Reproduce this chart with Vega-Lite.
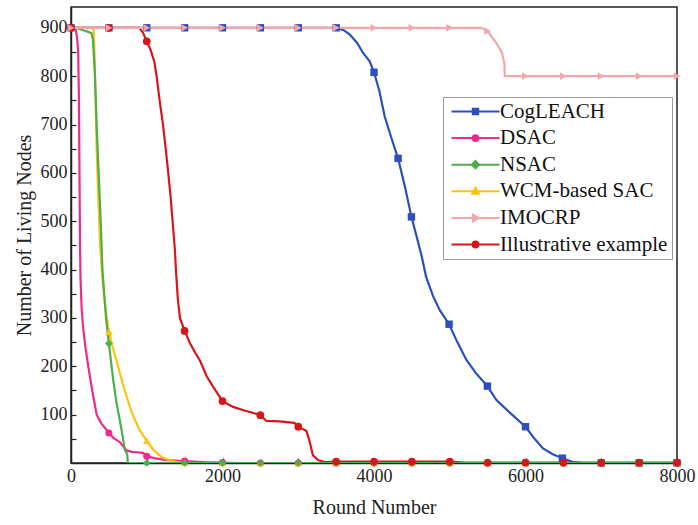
{
  "$schema": "https://vega.github.io/schema/vega-lite/v6.json",
  "autosize": "none",
  "width": 606,
  "height": 456,
  "padding": {"left": 71, "top": 7, "right": 21, "bottom": 62},
  "background": "white",
  "config": {
    "font": "Liberation Serif",
    "view": {"stroke": "#222", "strokeWidth": 1.5},
    "axis": {"domainColor": "#222", "domainWidth": 1.5, "tickColor": "#222", "tickWidth": 1.2, "labelColor": "#222", "titleColor": "#222", "labelFont": "Liberation Serif", "titleFont": "Liberation Serif", "labelFontSize": 18, "titleFontSize": 20, "titleFontWeight": "normal", "grid": false}
  },
  "data": {"values": [
    {"s":"Illustrative example","x":0,"y":900,"m":1},
    {"s":"Illustrative example","x":500,"y":900,"m":1},
    {"s":"Illustrative example","x":900,"y":900,"m":0},
    {"s":"Illustrative example","x":950,"y":890,"m":0},
    {"s":"Illustrative example","x":1000,"y":872,"m":1},
    {"s":"Illustrative example","x":1050,"y":855,"m":0},
    {"s":"Illustrative example","x":1100,"y":830,"m":0},
    {"s":"Illustrative example","x":1130,"y":800,"m":0},
    {"s":"Illustrative example","x":1170,"y":750,"m":0},
    {"s":"Illustrative example","x":1214,"y":700,"m":0},
    {"s":"Illustrative example","x":1250,"y":650,"m":0},
    {"s":"Illustrative example","x":1284,"y":600,"m":0},
    {"s":"Illustrative example","x":1315,"y":550,"m":0},
    {"s":"Illustrative example","x":1341,"y":500,"m":0},
    {"s":"Illustrative example","x":1372,"y":440,"m":0},
    {"s":"Illustrative example","x":1385,"y":400,"m":0},
    {"s":"Illustrative example","x":1410,"y":340,"m":0},
    {"s":"Illustrative example","x":1438,"y":300,"m":0},
    {"s":"Illustrative example","x":1500,"y":273,"m":1},
    {"s":"Illustrative example","x":1570,"y":248,"m":0},
    {"s":"Illustrative example","x":1640,"y":228,"m":0},
    {"s":"Illustrative example","x":1702,"y":212,"m":0},
    {"s":"Illustrative example","x":1790,"y":180,"m":0},
    {"s":"Illustrative example","x":1875,"y":158,"m":0},
    {"s":"Illustrative example","x":2000,"y":128,"m":1},
    {"s":"Illustrative example","x":2140,"y":116,"m":0},
    {"s":"Illustrative example","x":2300,"y":108,"m":0},
    {"s":"Illustrative example","x":2420,"y":103,"m":0},
    {"s":"Illustrative example","x":2500,"y":99,"m":1},
    {"s":"Illustrative example","x":2580,"y":87,"m":0},
    {"s":"Illustrative example","x":2750,"y":86,"m":0},
    {"s":"Illustrative example","x":2950,"y":83,"m":0},
    {"s":"Illustrative example","x":3000,"y":75,"m":1},
    {"s":"Illustrative example","x":3108,"y":66,"m":0},
    {"s":"Illustrative example","x":3150,"y":45,"m":0},
    {"s":"Illustrative example","x":3193,"y":16,"m":0},
    {"s":"Illustrative example","x":3260,"y":6,"m":0},
    {"s":"Illustrative example","x":3350,"y":2,"m":0},
    {"s":"Illustrative example","x":3500,"y":3,"m":1},
    {"s":"Illustrative example","x":4000,"y":3,"m":1},
    {"s":"Illustrative example","x":4500,"y":3,"m":1},
    {"s":"Illustrative example","x":5000,"y":3,"m":1},
    {"s":"Illustrative example","x":5200,"y":1,"m":0},
    {"s":"Illustrative example","x":5500,"y":1,"m":1},
    {"s":"Illustrative example","x":6000,"y":1,"m":1},
    {"s":"Illustrative example","x":6500,"y":1,"m":1},
    {"s":"Illustrative example","x":7000,"y":1,"m":1},
    {"s":"Illustrative example","x":7500,"y":1,"m":1},
    {"s":"Illustrative example","x":8000,"y":1,"m":1},

    {"s":"CogLEACH","x":0,"y":900,"m":1},
    {"s":"CogLEACH","x":500,"y":900,"m":1},
    {"s":"CogLEACH","x":1000,"y":900,"m":1},
    {"s":"CogLEACH","x":1500,"y":900,"m":1},
    {"s":"CogLEACH","x":2000,"y":900,"m":1},
    {"s":"CogLEACH","x":2500,"y":900,"m":1},
    {"s":"CogLEACH","x":3000,"y":900,"m":1},
    {"s":"CogLEACH","x":3500,"y":900,"m":1},
    {"s":"CogLEACH","x":3600,"y":895,"m":0},
    {"s":"CogLEACH","x":3681,"y":886,"m":0},
    {"s":"CogLEACH","x":3780,"y":868,"m":0},
    {"s":"CogLEACH","x":3856,"y":848,"m":0},
    {"s":"CogLEACH","x":3945,"y":830,"m":0},
    {"s":"CogLEACH","x":4000,"y":808,"m":1},
    {"s":"CogLEACH","x":4070,"y":770,"m":0},
    {"s":"CogLEACH","x":4142,"y":716,"m":0},
    {"s":"CogLEACH","x":4230,"y":672,"m":0},
    {"s":"CogLEACH","x":4318,"y":630,"m":1},
    {"s":"CogLEACH","x":4410,"y":570,"m":0},
    {"s":"CogLEACH","x":4494,"y":509,"m":1},
    {"s":"CogLEACH","x":4560,"y":470,"m":0},
    {"s":"CogLEACH","x":4626,"y":430,"m":0},
    {"s":"CogLEACH","x":4688,"y":385,"m":0},
    {"s":"CogLEACH","x":4780,"y":345,"m":0},
    {"s":"CogLEACH","x":4868,"y":316,"m":0},
    {"s":"CogLEACH","x":4991,"y":287,"m":1},
    {"s":"CogLEACH","x":5100,"y":250,"m":0},
    {"s":"CogLEACH","x":5220,"y":213,"m":0},
    {"s":"CogLEACH","x":5350,"y":185,"m":0},
    {"s":"CogLEACH","x":5497,"y":159,"m":1},
    {"s":"CogLEACH","x":5616,"y":130,"m":0},
    {"s":"CogLEACH","x":5800,"y":103,"m":0},
    {"s":"CogLEACH","x":6000,"y":75,"m":1},
    {"s":"CogLEACH","x":6120,"y":50,"m":0},
    {"s":"CogLEACH","x":6231,"y":30,"m":0},
    {"s":"CogLEACH","x":6360,"y":18,"m":0},
    {"s":"CogLEACH","x":6487,"y":10,"m":1},
    {"s":"CogLEACH","x":6627,"y":2,"m":0},
    {"s":"CogLEACH","x":6750,"y":0,"m":0},
    {"s":"CogLEACH","x":7000,"y":0,"m":1},
    {"s":"CogLEACH","x":7500,"y":0,"m":1},
    {"s":"CogLEACH","x":8000,"y":0,"m":1},

    {"s":"DSAC","x":0,"y":900,"m":1},
    {"s":"DSAC","x":60,"y":900,"m":0},
    {"s":"DSAC","x":80,"y":880,"m":0},
    {"s":"DSAC","x":95,"y":850,"m":0},
    {"s":"DSAC","x":105,"y":750,"m":0},
    {"s":"DSAC","x":112,"y":600,"m":0},
    {"s":"DSAC","x":119,"y":450,"m":0},
    {"s":"DSAC","x":126,"y":380,"m":0},
    {"s":"DSAC","x":140,"y":320,"m":0},
    {"s":"DSAC","x":160,"y":280,"m":0},
    {"s":"DSAC","x":190,"y":240,"m":0},
    {"s":"DSAC","x":228,"y":200,"m":0},
    {"s":"DSAC","x":280,"y":150,"m":0},
    {"s":"DSAC","x":339,"y":100,"m":0},
    {"s":"DSAC","x":400,"y":82,"m":0},
    {"s":"DSAC","x":450,"y":72,"m":0},
    {"s":"DSAC","x":500,"y":62,"m":1},
    {"s":"DSAC","x":560,"y":52,"m":0},
    {"s":"DSAC","x":646,"y":43,"m":0},
    {"s":"DSAC","x":735,"y":26,"m":0},
    {"s":"DSAC","x":800,"y":23,"m":0},
    {"s":"DSAC","x":950,"y":21,"m":0},
    {"s":"DSAC","x":1000,"y":14,"m":1},
    {"s":"DSAC","x":1100,"y":10,"m":0},
    {"s":"DSAC","x":1262,"y":6,"m":0},
    {"s":"DSAC","x":1500,"y":4,"m":1},
    {"s":"DSAC","x":1750,"y":2,"m":0},
    {"s":"DSAC","x":2000,"y":1,"m":1},
    {"s":"DSAC","x":2200,"y":0,"m":0},
    {"s":"DSAC","x":2500,"y":0,"m":1},
    {"s":"DSAC","x":3000,"y":0,"m":1},
    {"s":"DSAC","x":3500,"y":0,"m":1},
    {"s":"DSAC","x":4000,"y":0,"m":1},
    {"s":"DSAC","x":4500,"y":0,"m":1},
    {"s":"DSAC","x":5000,"y":0,"m":1},
    {"s":"DSAC","x":5500,"y":0,"m":1},
    {"s":"DSAC","x":6000,"y":0,"m":1},
    {"s":"DSAC","x":6500,"y":0,"m":1},
    {"s":"DSAC","x":7000,"y":0,"m":1},
    {"s":"DSAC","x":7500,"y":0,"m":1},
    {"s":"DSAC","x":8000,"y":0,"m":1},

    {"s":"WCM-based SAC","x":0,"y":900,"m":1},
    {"s":"WCM-based SAC","x":280,"y":900,"m":0},
    {"s":"WCM-based SAC","x":300,"y":895,"m":0},
    {"s":"WCM-based SAC","x":310,"y":850,"m":0},
    {"s":"WCM-based SAC","x":320,"y":780,"m":0},
    {"s":"WCM-based SAC","x":338,"y":650,"m":0},
    {"s":"WCM-based SAC","x":360,"y":550,"m":0},
    {"s":"WCM-based SAC","x":385,"y":450,"m":0},
    {"s":"WCM-based SAC","x":415,"y":380,"m":0},
    {"s":"WCM-based SAC","x":455,"y":320,"m":0},
    {"s":"WCM-based SAC","x":500,"y":271,"m":1},
    {"s":"WCM-based SAC","x":550,"y":240,"m":0},
    {"s":"WCM-based SAC","x":620,"y":200,"m":0},
    {"s":"WCM-based SAC","x":700,"y":155,"m":0},
    {"s":"WCM-based SAC","x":800,"y":105,"m":0},
    {"s":"WCM-based SAC","x":900,"y":70,"m":0},
    {"s":"WCM-based SAC","x":1000,"y":46,"m":1},
    {"s":"WCM-based SAC","x":1100,"y":25,"m":0},
    {"s":"WCM-based SAC","x":1200,"y":12,"m":0},
    {"s":"WCM-based SAC","x":1300,"y":6,"m":0},
    {"s":"WCM-based SAC","x":1400,"y":2,"m":0},
    {"s":"WCM-based SAC","x":1500,"y":1,"m":1},
    {"s":"WCM-based SAC","x":1600,"y":0,"m":0},
    {"s":"WCM-based SAC","x":2000,"y":0,"m":1},
    {"s":"WCM-based SAC","x":2500,"y":0,"m":1},
    {"s":"WCM-based SAC","x":3000,"y":0,"m":1},
    {"s":"WCM-based SAC","x":3500,"y":0,"m":1},
    {"s":"WCM-based SAC","x":4000,"y":0,"m":1},
    {"s":"WCM-based SAC","x":4500,"y":0,"m":1},
    {"s":"WCM-based SAC","x":5000,"y":0,"m":1},
    {"s":"WCM-based SAC","x":5500,"y":0,"m":1},
    {"s":"WCM-based SAC","x":6000,"y":0,"m":1},
    {"s":"WCM-based SAC","x":6500,"y":0,"m":1},
    {"s":"WCM-based SAC","x":7000,"y":0,"m":1},
    {"s":"WCM-based SAC","x":7500,"y":0,"m":1},
    {"s":"WCM-based SAC","x":8000,"y":0,"m":1},

    {"s":"NSAC","x":0,"y":900,"m":1},
    {"s":"NSAC","x":100,"y":898,"m":0},
    {"s":"NSAC","x":200,"y":893,"m":0},
    {"s":"NSAC","x":270,"y":889,"m":0},
    {"s":"NSAC","x":290,"y":875,"m":0},
    {"s":"NSAC","x":317,"y":800,"m":0},
    {"s":"NSAC","x":338,"y":700,"m":0},
    {"s":"NSAC","x":365,"y":600,"m":0},
    {"s":"NSAC","x":392,"y":500,"m":0},
    {"s":"NSAC","x":415,"y":400,"m":0},
    {"s":"NSAC","x":462,"y":300,"m":0},
    {"s":"NSAC","x":500,"y":247,"m":1},
    {"s":"NSAC","x":558,"y":171,"m":0},
    {"s":"NSAC","x":600,"y":125,"m":0},
    {"s":"NSAC","x":640,"y":92,"m":0},
    {"s":"NSAC","x":668,"y":68,"m":0},
    {"s":"NSAC","x":712,"y":26,"m":0},
    {"s":"NSAC","x":742,"y":18,"m":0},
    {"s":"NSAC","x":750,"y":0,"m":0},
    {"s":"NSAC","x":1000,"y":0,"m":1},
    {"s":"NSAC","x":1500,"y":0,"m":1},
    {"s":"NSAC","x":2000,"y":0,"m":1},
    {"s":"NSAC","x":2500,"y":0,"m":1},
    {"s":"NSAC","x":3000,"y":0,"m":1},
    {"s":"NSAC","x":3500,"y":0,"m":1},
    {"s":"NSAC","x":4000,"y":0,"m":1},
    {"s":"NSAC","x":4500,"y":0,"m":1},
    {"s":"NSAC","x":5000,"y":0,"m":1},
    {"s":"NSAC","x":5500,"y":0,"m":1},
    {"s":"NSAC","x":6000,"y":0,"m":1},
    {"s":"NSAC","x":6500,"y":0,"m":1},
    {"s":"NSAC","x":7000,"y":0,"m":1},
    {"s":"NSAC","x":7500,"y":0,"m":1},
    {"s":"NSAC","x":8000,"y":0,"m":1},

    {"s":"IMOCRP","x":0,"y":900,"m":1},
    {"s":"IMOCRP","x":500,"y":900,"m":1},
    {"s":"IMOCRP","x":1000,"y":900,"m":1},
    {"s":"IMOCRP","x":1500,"y":900,"m":1},
    {"s":"IMOCRP","x":2000,"y":900,"m":1},
    {"s":"IMOCRP","x":2500,"y":900,"m":1},
    {"s":"IMOCRP","x":3000,"y":900,"m":1},
    {"s":"IMOCRP","x":3500,"y":900,"m":1},
    {"s":"IMOCRP","x":4000,"y":900,"m":1},
    {"s":"IMOCRP","x":4500,"y":900,"m":1},
    {"s":"IMOCRP","x":5000,"y":900,"m":1},
    {"s":"IMOCRP","x":5417,"y":900,"m":0},
    {"s":"IMOCRP","x":5500,"y":893,"m":1},
    {"s":"IMOCRP","x":5617,"y":868,"m":0},
    {"s":"IMOCRP","x":5690,"y":848,"m":0},
    {"s":"IMOCRP","x":5722,"y":825,"m":0},
    {"s":"IMOCRP","x":5726,"y":800,"m":0},
    {"s":"IMOCRP","x":6000,"y":800,"m":1},
    {"s":"IMOCRP","x":6500,"y":800,"m":1},
    {"s":"IMOCRP","x":7000,"y":800,"m":1},
    {"s":"IMOCRP","x":7500,"y":800,"m":1},
    {"s":"IMOCRP","x":8000,"y":800,"m":1}
  ]},
  "encoding": {
    "x": {"field": "x", "type": "quantitative", "scale": {"domain": [0, 8000], "nice": false},
      "axis": {"title": "Round Number", "values": [0,1000,2000,3000,4000,5000,6000,7000,8000], "labelExpr": "datum.value % 2000 == 0 ? datum.value : ''", "format": "d", "tickSize": -5, "labelPadding": 9, "titlePadding": 12, "labelFlush": false}},
    "y": {"field": "y", "type": "quantitative", "scale": {"domain": [0, 943], "nice": false, "zero": true},
      "axis": {"title": "Number of Living Nodes", "values": [50,100,150,200,250,300,350,400,450,500,550,600,650,700,750,800,850,900], "labelExpr": "datum.value % 100 == 0 ? datum.value : ''", "tickSize": -5, "labelPadding": 9, "titlePadding": 6}}
  },
  "layer": [
    {
      "mark": {"type": "line", "strokeWidth": 2.2, "clip": true},
      "encoding": {
        "color": {"field": "s", "type": "nominal",
          "scale": {"domain": ["CogLEACH","DSAC","NSAC","WCM-based SAC","IMOCRP","Illustrative example"], "range": ["#2C4FBE","#EE2A8C","#4DAF4A","#FFC20E","#F4A6A8","#D7161C"]}},
        "order": {"field": "x", "type": "quantitative"}
      }
    },
    {"transform": [{"filter": "datum.m == 1 && datum.s == 'CogLEACH'"}], "mark": {"type": "point", "shape": "square", "filled": true, "size": 55, "opacity": 1}, "encoding": {"color": {"field": "s", "type": "nominal"}}},
    {"transform": [{"filter": "datum.m == 1 && datum.s == 'DSAC'"}], "mark": {"type": "point", "shape": "circle", "filled": true, "size": 50, "opacity": 1}, "encoding": {"color": {"field": "s", "type": "nominal"}}},
    {"transform": [{"filter": "datum.m == 1 && datum.s == 'WCM-based SAC'"}], "mark": {"type": "point", "shape": "triangle-up", "filled": true, "size": 60, "opacity": 1}, "encoding": {"color": {"field": "s", "type": "nominal"}}},
    {"transform": [{"filter": "datum.m == 1 && datum.s == 'NSAC'"}], "mark": {"type": "point", "shape": "diamond", "filled": true, "size": 60, "opacity": 1}, "encoding": {"color": {"field": "s", "type": "nominal"}}},
    {"transform": [{"filter": "datum.m == 1 && datum.s == 'Illustrative example'"}], "mark": {"type": "point", "shape": "circle", "filled": true, "size": 60, "opacity": 1}, "encoding": {"color": {"field": "s", "type": "nominal"}}},
    {"transform": [{"filter": "datum.m == 1 && datum.s == 'IMOCRP'"}], "mark": {"type": "point", "shape": "triangle-right", "filled": true, "size": 60, "opacity": 1}, "encoding": {"color": {"field": "s", "type": "nominal"}}},
    {
      "transform": [{"filter": "datum.x < 0"}],
      "mark": {"type": "point", "filled": true, "size": 144, "strokeWidth": 2, "opacity": 1},
      "encoding": {
        "color": {"field": "s", "type": "nominal",
          "legend": {"title": null, "orient": "none", "legendX": 372, "legendY": 90, "labelFontSize": 21, "labelFont": "Liberation Serif", "labelColor": "#111", "labelLimit": 300, "strokeColor": "#999", "fillColor": "white", "padding": 4, "symbolSize": 144, "symbolStrokeWidth": 2, "symbolOffset": 18, "labelOffset": 14, "rowPadding": 4.6, "symbolOpacity": 1, "symbolType": "circle"}},
        "stroke": {"field": "s", "type": "nominal",
          "scale": {"domain": ["CogLEACH","DSAC","NSAC","WCM-based SAC","IMOCRP","Illustrative example"], "range": ["#2C4FBE","#EE2A8C","#4DAF4A","#FFC20E","#F4A6A8","#D7161C"]}},
        "shape": {"field": "s", "type": "nominal",
          "scale": {"domain": ["CogLEACH","DSAC","NSAC","WCM-based SAC","IMOCRP","Illustrative example"],
            "range": [
              "M-4,0H4M-0.45,-0.45H0.45V0.45H-0.45Z",
              "M-4,0H4M-0.48,0A0.48,0.48 0 1,0 0.48,0A0.48,0.48 0 1,0 -0.48,0Z",
              "M-4,0H4M0,-0.62L0.62,0L0,0.62L-0.62,0Z",
              "M-4,0H4M0,-0.58L0.55,0.42H-0.55Z",
              "M-4,0H4M0.58,0L-0.42,-0.55V0.55Z",
              "M-4,0H4M-0.48,0A0.48,0.48 0 1,0 0.48,0A0.48,0.48 0 1,0 -0.48,0Z"
            ]}}
      }
    }
  ]
}
